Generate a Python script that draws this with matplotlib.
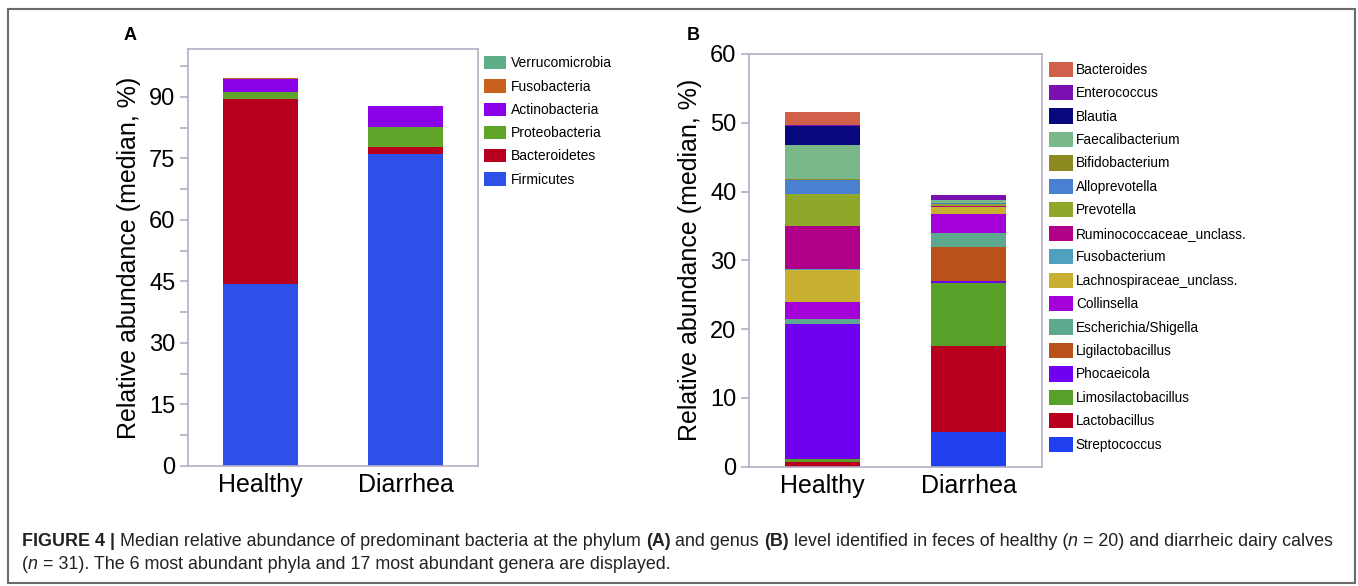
import matplotlib
matplotlib.use('Agg')
import matplotlib.pyplot as plt
from matplotlib.patches import Patch, Rectangle
from matplotlib.ticker import MultipleLocator
import numpy as np

groups = ['Healthy', 'Diarrhea']

# Panel A: phyla (bottom -> top)
phyla = ['Firmicutes', 'Bacteroidetes', 'Proteobacteria', 'Actinobacteria',
         'Fusobacteria', 'Verrucomicrobia']
phyla_colors = ['#2d50e8', '#b8001e', '#5ea52a', '#8a00e8', '#c8611e', '#5fae8a']
phyla_healthy = [44.4, 45.0, 1.9, 3.2, 0.08, 0.1]
phyla_diarrhea = [76.1, 1.6, 5.0, 5.0, 0.1, 0.08]

# Panel B: genera (bottom -> top)
genera = ['Streptococcus', 'Lactobacillus', 'Limosilactobacillus', 'Phocaeicola',
          'Ligilactobacillus', 'Escherichia/Shigella', 'Collinsella',
          'Lachnospiraceae_unclass.', 'Fusobacterium', 'Ruminococcaceae_unclass.',
          'Prevotella', 'Alloprevotella', 'Bifidobacterium', 'Faecalibacterium',
          'Blautia', 'Enterococcus', 'Bacteroides']
genera_colors = ['#2040f0', '#b8001e', '#58a028', '#7000f0', '#b85218', '#5fa890',
                 '#a400d8', '#c8b030', '#50a0c0', '#b0008a', '#8fa82a', '#4a80d0',
                 '#8a8a20', '#7ab88a', '#08087e', '#7a10b0', '#d0604a']
genera_healthy = [0.0, 0.73, 0.35, 19.6, 0.05, 0.8, 2.45, 4.55, 0.2, 6.3, 4.6,
                  2.1, 0.1, 4.9, 2.8, 0.1, 1.9]
genera_diarrhea = [5.1, 12.5, 9.1, 0.25, 4.95, 2.1, 2.7, 1.0, 0.1, 0.05, 0.3,
                   0.15, 0.05, 0.4, 0.05, 0.65, 0.05]

W, H = 1358, 586
fig = plt.figure(figsize=(W / 100, H / 100), dpi=100)
plt.rcParams['font.family'] = ['Liberation Sans', 'DejaVu Sans']

spine_col = '#b4aec4'


def px_axes(l, t, r, b):
    return fig.add_axes([l / W, 1 - b / H, (r - l) / W, (b - t) / H])


def style(ax):
    for s in ax.spines.values():
        s.set_color(spine_col)
        s.set_linewidth(1.2)
    ax.tick_params(axis='both', which='both', color=spine_col, width=1.2,
                   labelsize=17, labelcolor='black')
    ax.tick_params(axis='y', which='major', length=6, pad=3)
    ax.tick_params(axis='y', which='minor', length=6)
    ax.tick_params(axis='x', length=0, pad=5)
    ax.set_xticks(range(len(groups)))
    ax.set_xticklabels(groups, fontsize=18)
    ax.set_xlim(-0.5, 1.5)


def stack(ax, names, colors, healthy, diarrhea):
    x = np.arange(len(groups))
    bottom = np.zeros(len(groups))
    for name, c, h, d in zip(names, colors, healthy, diarrhea):
        vals = np.array([h, d])
        ax.bar(x, vals, width=0.512, bottom=bottom, color=c, edgecolor='none',
               label=name)
        bottom += vals


# Panel A
axA = px_axes(188, 49, 478, 466)
stack(axA, phyla, phyla_colors, phyla_healthy, phyla_diarrhea)
axA.set_ylim(0, 101.7)
axA.yaxis.set_major_locator(MultipleLocator(15))
axA.yaxis.set_minor_locator(MultipleLocator(7.5))
style(axA)
axA.set_ylabel('Relative abundance (median, %)', fontsize=18, labelpad=6)
hA, lA = axA.get_legend_handles_labels()
legA = fig.legend(hA[::-1], lA[::-1], loc='upper left',
                  bbox_to_anchor=(484 / W, 1 - 56 / H), frameon=False,
                  fontsize=10, handlelength=1.6, handleheight=1.1,
                  labelspacing=0.64, handletextpad=0.35, borderpad=0,
                  borderaxespad=0)

# Panel B
axB = px_axes(749, 54, 1042, 466.7)
stack(axB, genera, genera_colors, genera_healthy, genera_diarrhea)
axB.set_ylim(0, 60)
axB.yaxis.set_major_locator(MultipleLocator(10))
style(axB)
axB.set_ylabel('Relative abundance (median, %)', fontsize=18, labelpad=6)
hB, lB = axB.get_legend_handles_labels()
legB = fig.legend(hB[::-1], lB[::-1], loc='upper left',
                  bbox_to_anchor=(1049 / W, 1 - 61.5 / H), frameon=False,
                  fontsize=9.8, handlelength=1.75, handleheight=1.35,
                  labelspacing=0.6, handletextpad=0.22, borderpad=0,
                  borderaxespad=0)

# Panel letters
fig.text(130 / W, 1 - 35 / H, 'A', fontsize=13, fontweight='bold',
         ha='center', va='center')
fig.text(693 / W, 1 - 35 / H, 'B', fontsize=13, fontweight='bold',
         ha='center', va='center')

# Outer frame
fig.patches.append(Rectangle((8 / W, 1 - 583 / H), (1355 - 8) / W, (583 - 9) / H,
                             transform=fig.transFigure, fill=False,
                             edgecolor='#6a6a6a', linewidth=1.5))

# Caption
cap_family = ['Liberation Sans Narrow', 'Liberation Sans', 'DejaVu Sans']
line1 = [('FIGURE 4 |', 'bold', 'normal'),
         (' Median relative abundance of predominant bacteria at the phylum ', 'normal', 'normal'),
         ('(A)', 'bold', 'normal'), (' and genus ', 'normal', 'normal'),
         ('(B)', 'bold', 'normal'),
         (' level identified in feces of healthy (', 'normal', 'normal'),
         ('n', 'normal', 'italic'), (' = 20) and diarrheic dairy calves', 'normal', 'normal')]
line2 = [('(', 'normal', 'normal'), ('n', 'normal', 'italic'),
         (' = 31). The 6 most abundant phyla and 17 most abundant genera are displayed.',
          'normal', 'normal')]

fig.canvas.draw()
renderer = fig.canvas.get_renderer()


def draw_line(pieces, x0, y, size):
    x = x0
    arts = []
    for txt, wgt, sty in pieces:
        t = fig.text(x / W, 1 - y / H, txt, fontsize=size, fontweight=wgt,
                     fontstyle=sty, family=cap_family, va='baseline', ha='left',
                     color='#222222')
        bb = t.get_window_extent(renderer=renderer)
        x += bb.width
        arts.append(t)
    return x - x0, arts


# measure and scale to target width
wid, arts = draw_line(line1, 22, 546, 10)
for a in arts:
    a.remove()
size = 10 * (1338 - 22) / wid
draw_line(line1, 22, 546, size)
draw_line(line2, 22, 569, size)

fig.savefig('out.png', dpi=100)
